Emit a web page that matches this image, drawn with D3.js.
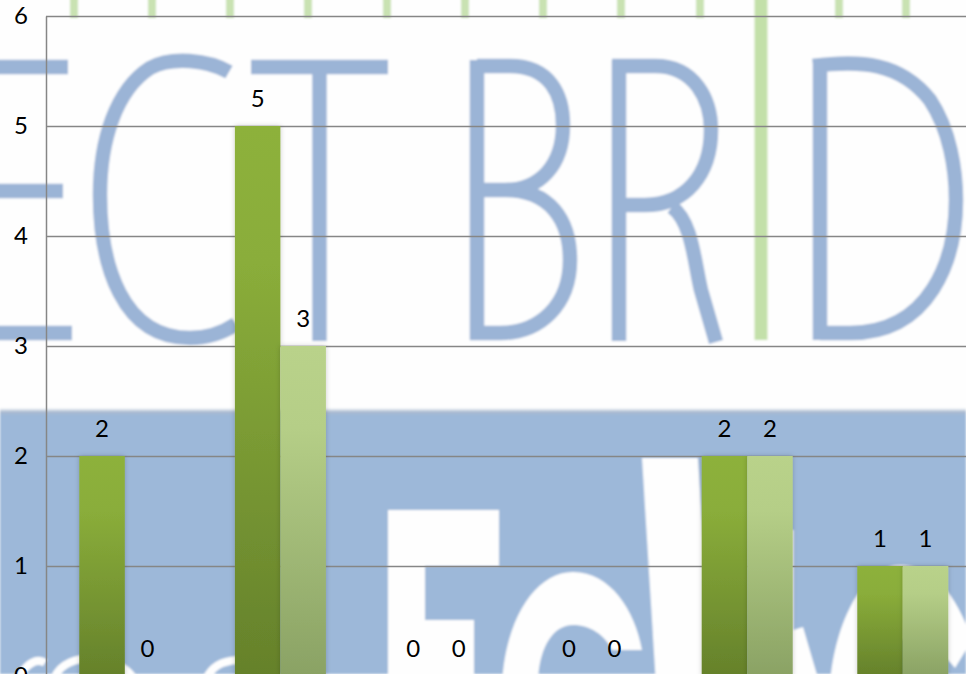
<!DOCTYPE html>
<html>
<head>
<meta charset="utf-8">
<script src="https://cdn.jsdelivr.net/npm/d3@7"></script>
<style>
html,body{margin:0;padding:0;background:#fefefe;overflow:hidden}
svg{display:block}
svg text{font-family:Lato,"Open Sans",sans-serif;font-size:24px;fill:#000}
</style>
</head>
<body>
<div id="chart"></div>
<script>
const categories = ["Group 1","Group 2","Group 3","Group 4","Group 5","Group 6"];
const seriesNames = ["Series 1","Series 2"];
const series1 = [2,5,0,0,2,1];
const series2 = [0,3,0,0,2,1];
const yTicks = [0,1,2,3,4,5,6];

const W = 966, H = 674;
const svg = d3.select("#chart").append("svg").attr("width",W).attr("height",H).attr("viewBox",[0,0,W,H]);
const defs = svg.append("defs");

const x = d3.scaleBand().domain(categories).range([47,980.6]).paddingInner(0.415).paddingOuter(0.2075);
const xSub = d3.scaleBand().domain(seriesNames).range([0,x.bandwidth()]);
const y = d3.scaleLinear().domain([0,6]).range([676,16]);

const grads = [["g0","#8DB13B","#65812B"],["g1","#B9D28A","#8AA264"]];
grads.forEach(([id,a,b])=>{
  const g = defs.append("linearGradient").attr("id",id).attr("x1",0).attr("x2",0).attr("y1",0).attr("y2",1);
  g.append("stop").attr("offset","0").attr("stop-color",a);
  g.append("stop").attr("offset","0.25").attr("stop-color",d3.interpolateRgb(a,b)(0.08));
  g.append("stop").attr("offset","1").attr("stop-color",b);
});
const edge = defs.append("linearGradient").attr("id","edge").attr("x1",0).attr("x2",0).attr("y1",0).attr("y2",1);
edge.append("stop").attr("offset","0").attr("stop-color","#fefefe");
edge.append("stop").attr("offset","0.5").attr("stop-color","#a9b9cf");
edge.append("stop").attr("offset","1").attr("stop-color","#9db8d9");
defs.append("filter").attr("id","soft").attr("x","-5%").attr("y","-5%").attr("width","110%").attr("height","110%")
  .append("feGaussianBlur").attr("stdDeviation",0.8);
const sh = defs.append("filter").attr("id","shadow").attr("x","-30%").attr("y","-5%").attr("width","160%").attr("height","110%");
sh.append("feDropShadow").attr("dx",0).attr("dy",0).attr("stdDeviation",2.5).attr("flood-color","#000").attr("flood-opacity",0.2);

/* background picture (a logo behind the chart) */
const bg = svg.append("g").attr("class","background").attr("filter","url(#soft)");
bg.append("rect").attr("width",W).attr("height",H).attr("fill","#fefefe");
const ticksGreen = [74,152,230,308,387,465,543,621,700,839,906];
bg.selectAll("rect.stub").data(ticksGreen).join("rect").attr("class","stub")
  .attr("x",d=>d-4).attr("y",-2).attr("width",8).attr("height",20).attr("fill","#c9e2b2");
bg.append("rect").attr("x",754.5).attr("y",-2).attr("width",13).attr("height",342).attr("fill","#c3e0a9");
const letters = [
 "M-5,67 H68 M-5,191 H63 M-5,333 H72",
 "M229,72 C208,60 172,56 150,68 C116,90 100,140 100,195 C100,265 122,338 190,338 C208,338 224,332 236,324",
 "M251,67 H388 M319.5,67 V341",
 "M477,60 V340 M477,66 H510 C550,66 563,95 563,125 C563,165 540,190 505,190 H477 M505,190 C550,190 570,220 570,260 C570,305 540,333 500,333 H470",
 "M619,60 V341 M612,66 H655 C695,66 711,100 711,130 C711,175 685,205 645,205 H619 M672,207 C692,222 694,260 701,290 L716,342",
 "M820,60 V340 M813,66 C860,60 900,62 930,100 C950,130 956,170 956,200 C956,260 930,333 850,333 H820"
];
bg.selectAll("path.letter").data(letters).join("path").attr("class","letter")
  .attr("d",d=>d).attr("fill","none").attr("stroke","#9bb4d6").attr("stroke-width",14.5);
bg.append("rect").attr("x",0).attr("y",408).attr("width",W).attr("height",8).attr("fill","url(#edge)");
bg.append("rect").attr("x",0).attr("y",415).attr("width",W).attr("height",H-415).attr("fill","#9db8d9");
const whites = [
 "M388,510 H499 V566 H425 V620 H474 V685 H388 Z",
 "M502,685 C505,620 535,572 573,572 C610,572 635,610 642,650 L612,650 C605,635 590,625 573,625 C552,625 538,650 538,685 Z",
 "M642,458 H698 L712,685 H656 Z",
 "M785,530 L793.5,530 L793.5,630 L803,627 L820,685 H785 Z",
 "M830,685 C835,620 865,565 900,565 C930,565 955,590 972,640 L955,668 C945,655 925,640 900,640 C885,640 875,660 875,685 Z"
];
bg.selectAll("path.white").data(whites).join("path").attr("class","white").attr("d",d=>d).attr("fill","#fefefe");
bg.append("path").attr("d","M18,680 C26,662 38,658 45,663 M53,682 C58,663 78,656 100,660 C122,664 132,672 136,684 M204,684 C210,666 222,661 238,660")
  .attr("fill","none").attr("stroke","#fefefe").attr("stroke-width",8);

/* axis and gridlines */
const yAxis = d3.axisLeft(y).tickValues(yTicks).tickFormat(d3.format("d")).tickSize(-W).tickSizeOuter(0);
const ax = svg.append("g").attr("transform","translate(46,0)").call(yAxis);
ax.attr("font-size",null).attr("font-family",null);
ax.selectAll(".tick line").attr("stroke","#868686").attr("stroke-width",1.5);
ax.select(".domain").attr("stroke","#868686").attr("stroke-width",1.5);
ax.selectAll(".tick text").attr("x",-25).attr("dy","0.33em").attr("text-anchor","middle");

/* bars */
const rows = categories.map((c,i)=>[
  {c,s:seriesNames[0],v:series1[i],k:0},
  {c,s:seriesNames[1],v:series2[i],k:1}
]).flat();
svg.append("g").selectAll("rect").data(rows.filter(d=>d.v>0)).join("rect")
  .attr("x",d=>x(d.c)+xSub(d.s))
  .attr("y",d=>y(d.v))
  .attr("width",xSub.bandwidth())
  .attr("height",d=>y(0)-y(d.v))
  .attr("fill",d=>`url(#g${d.k})`)
  .attr("filter","url(#shadow)");
svg.append("g").selectAll("text").data(rows).join("text")
  .attr("x",d=>x(d.c)+xSub(d.s)+xSub.bandwidth()/2)
  .attr("y",d=>y(d.v)-19)
  .attr("text-anchor","middle")
  .text(d=>d.v);
</script>
</body>
</html>
